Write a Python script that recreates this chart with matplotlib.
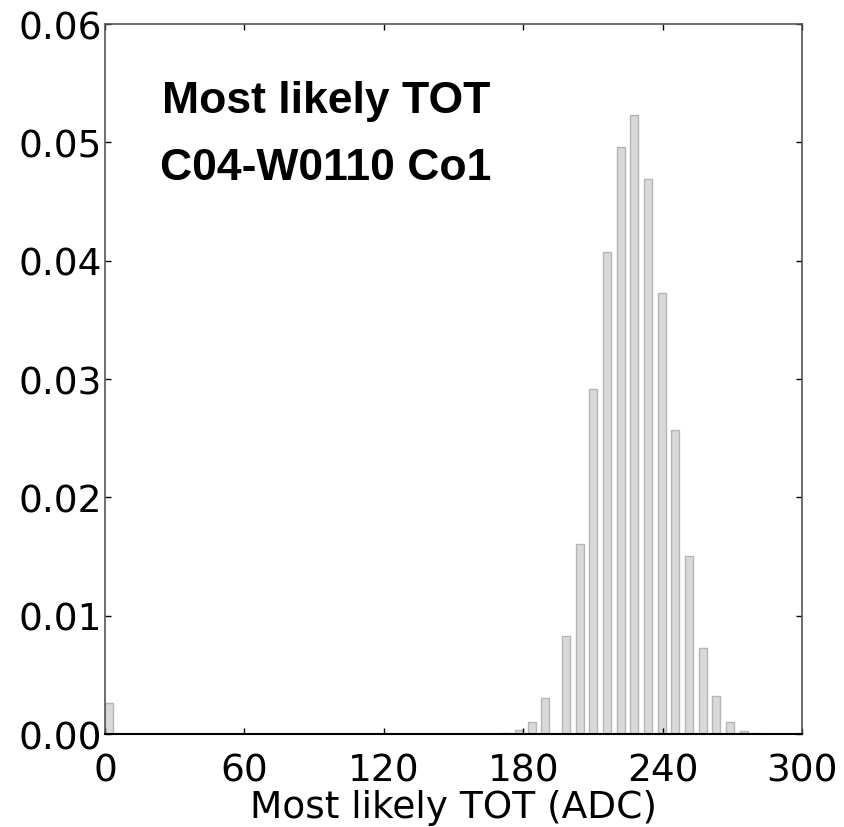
import matplotlib
matplotlib.use("Agg")
import matplotlib.pyplot as plt

# histogram of most likely TOT per pixel (bin positions in ADC, normalised counts)
tot_bins = [1.6, 172.2, 178.2, 183.7, 189.5, 198.6, 204.5, 210.2, 216.1, 222.0,
            227.8, 233.7, 239.6, 245.5, 251.4, 257.3, 263.1, 269.0, 274.9, 280.8]
fraction = [0.0026, 0.00006, 0.0003, 0.00099, 0.00302, 0.00831, 0.01606, 0.02913,
            0.04071, 0.04958, 0.05231, 0.04688, 0.03727, 0.02566, 0.01507, 0.00724,
            0.00321, 0.00104, 0.00028, 0.00006]

x_ticks = [0, 60, 120, 180, 240, 300]
y_ticks = [0.00, 0.01, 0.02, 0.03, 0.04, 0.05, 0.06]

fig = plt.figure(figsize=(8.45, 8.28), dpi=100)
ax = fig.add_axes([0.1243, 0.1123, 0.8248, 0.8575])

ax.bar(tot_bins, fraction, width=3.5, color="#d9d9d9", edgecolor="#b5b5b5", linewidth=1.0)

ax.set_xlim(0, 300)
ax.set_ylim(0, 0.06)
ax.set_xticks(x_ticks)
ax.set_yticks(y_ticks)
ax.set_yticklabels([f"{v:.2f}" for v in y_ticks])
ax.tick_params(direction="in", length=4, width=1, top=True, right=True, labelsize=27)
ax.tick_params(axis="y", pad=2)
ax.tick_params(axis="x", pad=13)

for side in ["left", "top", "right"]:
    ax.spines[side].set_color("#555555")
    ax.spines[side].set_linewidth(1.2)
ax.spines["bottom"].set_color("black")
ax.spines["bottom"].set_linewidth(1.5)

ax.set_xlabel("Most likely TOT (ADC)", fontsize=27, labelpad=1)

ax.text(0.317, 0.876, "Most likely TOT", transform=ax.transAxes, ha="center",
        va="baseline", fontsize=32, fontweight="bold", family="Liberation Sans")
ax.text(0.317, 0.782, "C04-W0110 Co1", transform=ax.transAxes, ha="center",
        va="baseline", fontsize=32, fontweight="bold", family="Liberation Sans")

fig.savefig("out.png", dpi=100)
